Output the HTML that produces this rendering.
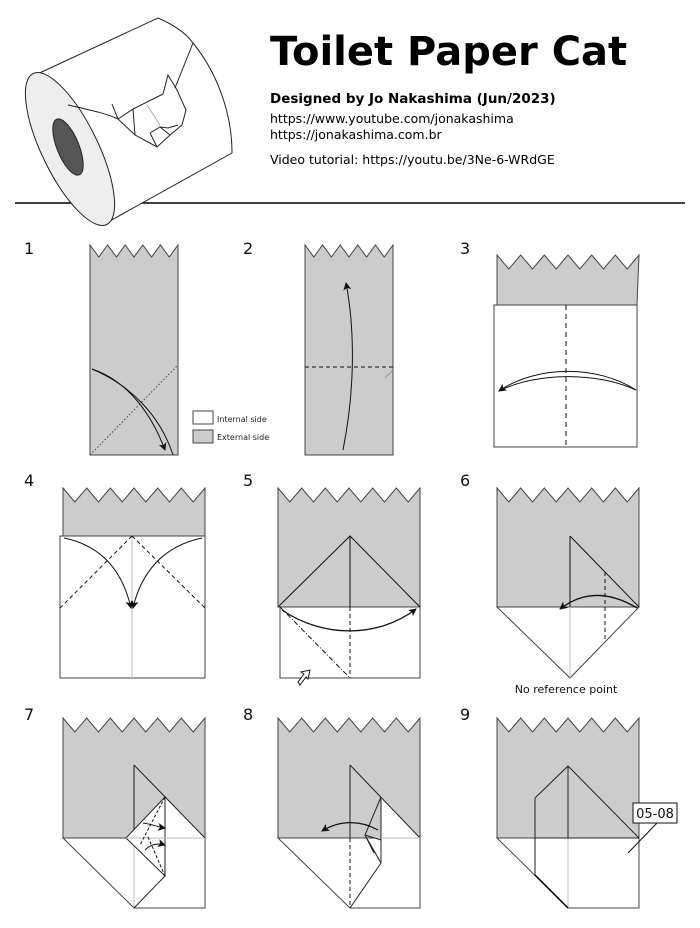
<!DOCTYPE html>
<html><head><meta charset="utf-8"><style>
body{margin:0;background:#fff;}
svg{display:block;font-family:"DejaVu Sans","Liberation Sans",sans-serif;}
</style></head><body>
<svg width="700" height="928" viewBox="0 0 700 928" xmlns="http://www.w3.org/2000/svg">
<defs>
<marker id="ah" markerWidth="8" markerHeight="8" refX="7" refY="4" orient="auto" markerUnits="userSpaceOnUse"><path d="M0,0 L8,4 L0,8 L2,4z" fill="#111"/></marker>
</defs>
<line x1="15" y1="203" x2="685" y2="203" stroke="#000" stroke-width="1.6"/>
<g fill="none" stroke="#222" stroke-width="1">
<!-- roll -->
<path d="M33,76 L158,18 C172,24 185,32 193,43 C215,70 232,110 232,153 L108,222 Z" fill="#fff"/>
<ellipse cx="70" cy="149" rx="28" ry="84" transform="rotate(-26 70 149)" fill="#eee"/>
<ellipse cx="68" cy="147" rx="11" ry="30" transform="rotate(-22 68 147)" fill="#555"/>
<path d="M68,105 C90,110 105,113 118,119 M193,43 L175,88 M112,104 L118,119 L133,109 L163,94 L168,75 L177,90 L186,110 L182,125 L170,135 L157,147 L135,135 L133,109 M118,119 L135,135 M150,133 L160,127 L168,128 L178,125 M150,133 L157,147 M160,127 L170,135"/>
<line x1="147" y1="105" x2="160" y2="125" stroke="#aaa"/>
</g>
<text x="270" y="65" font-size="40" font-weight="bold" fill="#000">Toilet Paper Cat</text>
<text x="270" y="103" font-size="13.5" font-weight="bold">Designed by Jo Nakashima (Jun/2023)</text>
<text x="270" y="123" font-size="12.5">https://www.youtube.com/jonakashima</text>
<text x="270" y="139" font-size="12.5">https://jonakashima.com.br</text>
<text x="270" y="164" font-size="12.5">Video tutorial: https://youtu.be/3Ne-6-WRdGE</text>

<g font-size="16" fill="#111">
<text x="24" y="254">1</text><text x="243" y="254">2</text><text x="460" y="254">3</text>
<text x="24" y="486">4</text><text x="243" y="486">5</text><text x="460" y="486">6</text>
<text x="24" y="720">7</text><text x="243" y="720">8</text><text x="460" y="720">9</text>
</g>

<g stroke="#444" stroke-width="1" fill="none">
<!-- step1 -->
<polygon points="90,245 98.8,257 107.6,245 116.4,257 125.2,245 134,257 142.8,245 151.6,257 160.4,245 169.2,257 178,245 178,455 90,455" fill="#ccc"/>
<line x1="90" y1="455" x2="178" y2="365" stroke-dasharray="1.5,2"/>
<path d="M92,369 C125,380 150,410 165,450" stroke="#111" marker-end="url(#ah)"/>
<path d="M92,369 C130,385 160,415 173,455" stroke="#111"/>
<rect x="193" y="411" width="20" height="13" fill="#fff"/>
<rect x="193" y="430" width="20" height="13" fill="#ccc"/>
<!-- step2 -->
<polygon points="305,245 313.8,257 322.6,245 331.4,257 340.2,245 349,257 357.8,245 366.6,257 375.4,245 384.2,257 393,245 393,455 305,455" fill="#ccc"/>
<line x1="305" y1="367" x2="393" y2="367" stroke="#111" stroke-dasharray="4,3"/>
<line x1="385" y1="378" x2="393" y2="370" stroke="#999"/>
<path d="M343,450 C355,390 355,330 346,283" stroke="#111" marker-end="url(#ah)"/>
<!-- step3 -->
<g transform="translate(497,255)">
<polygon points="0,0 11.8,14 23.7,0 35.5,14 47.3,0 59.2,14 71,0 82.8,14 94.7,0 106.5,14 118.3,0 130.2,14 142,0 140,50 0,50" fill="#ccc"/>
<rect x="-3" y="50" width="143" height="142" fill="#fff"/>
<line x1="69" y1="50" x2="69" y2="192" stroke="#111" stroke-dasharray="5,4"/>
<path d="M139,135 C100,110 40,110 2,136" stroke="#111" marker-end="url(#ah)"/>
<path d="M139,135 C100,117 40,117 2,136" stroke="#111"/>
</g>
<!-- step4 -->
<g transform="translate(63,488)">
<polygon points="0,0 11.8,14 23.7,0 35.5,14 47.3,0 59.2,14 71,0 82.8,14 94.7,0 106.5,14 118.3,0 130.2,14 142,0 142,48 0,48" fill="#ccc"/>
<rect x="-3" y="48" width="145" height="142" fill="#fff"/>
<line x1="69" y1="48" x2="69" y2="190" stroke="#bbb"/>
<path d="M69,48 L-3,120 M69,48 L142,120" stroke="#111" stroke-dasharray="4,3"/>
<path d="M1,50 C40,58 60,85 68,120" stroke="#111" marker-end="url(#ah)"/>
<path d="M139,50 C100,58 78,85 70,120" stroke="#111" marker-end="url(#ah)"/>
</g>
<!-- step5 -->
<g transform="translate(278,488)">
<polygon points="0,0 11.8,14 23.7,0 35.5,14 47.3,0 59.2,14 71,0 82.8,14 94.7,0 106.5,14 118.3,0 130.2,14 142,0 142,119 0,119" fill="#ccc"/>
<rect x="2" y="119" width="140" height="71" fill="#fff"/>
<path d="M0,119 L72,48 L142,119 M72,48 L72,119" stroke="#111"/>
<line x1="72" y1="119" x2="72" y2="190" stroke="#111" stroke-dasharray="4,3"/>
<line x1="2" y1="119" x2="72" y2="190" stroke="#111" stroke-dasharray="5,2,1,2"/>
<path d="M4,122 C45,150 100,150 138,121" stroke="#111" stroke-width="1.3" marker-end="url(#ah)"/>
<path d="M20,194 L26,186 L23,184 L32,182 L30,191 L28,189 L22,197 Z" fill="#fff" stroke="#111"/>
</g>
<!-- step6 -->
<g transform="translate(497,488)">
<polygon points="0,0 11.8,14 23.7,0 35.5,14 47.3,0 59.2,14 71,0 82.8,14 94.7,0 106.5,14 118.3,0 130.2,14 142,0 142,119 0,119" fill="#ccc"/>
<polygon points="0,119 73,190 142,119" fill="#fff"/>
<line x1="73" y1="119" x2="73" y2="190" stroke="#bbb"/>
<path d="M73,48 L73,119 M73,48 L142,119" stroke="#111"/>
<line x1="108" y1="84" x2="108" y2="154" stroke="#111" stroke-dasharray="4,3"/>
<path d="M140,120 C110,102 85,104 63,121" stroke="#111" stroke-width="1.3" marker-end="url(#ah)"/>
</g>
<text x="566" y="693" font-size="11" text-anchor="middle" fill="#111" stroke="none">No reference point</text>
<!-- step7 -->
<g transform="translate(63,718)">
<polygon points="0,0 11.8,14 23.7,0 35.5,14 47.3,0 59.2,14 71,0 82.8,14 94.7,0 106.5,14 118.3,0 130.2,14 142,0 142,120 0,120" fill="#ccc"/>
<polygon points="0,120 71,190 142,190 142,120" fill="#fff"/>
<line x1="71" y1="120" x2="71" y2="190" stroke="#bbb"/>
<polygon points="102,79 142,120 102,120" fill="#fff" stroke="none"/>
<path d="M71,47 L71,120 M71,47 L142,120" stroke="#222"/>
<polygon points="102,79 63,120 102,158" fill="#fff" stroke="#222"/>
<line x1="102" y1="158" x2="71" y2="190" stroke="#222"/>
<line x1="102" y1="79" x2="102" y2="158" stroke="#222"/>
<line x1="63" y1="120" x2="142" y2="120" stroke="#bbb"/>
<path d="M102,79 L77,127 M85,119 L102,158" stroke="#111" stroke-dasharray="3,2"/>
<path d="M80,105 C88,106 95,109 102,110" stroke="#111" marker-end="url(#ah)"/>
<path d="M82,132 C88,126 95,125 102,127" stroke="#111" marker-end="url(#ah)"/>
</g>
<!-- step8 -->
<g transform="translate(278,718)">
<polygon points="0,0 11.8,14 23.7,0 35.5,14 47.3,0 59.2,14 71,0 82.8,14 94.7,0 106.5,14 118.3,0 130.2,14 142,0 142,120 0,120" fill="#ccc"/>
<polygon points="0,120 72,190 142,190 142,120" fill="#fff"/>
<polygon points="103,79 142,120 103,120" fill="#fff" stroke="none"/>
<path d="M72,47 L72,120 M72,47 L142,120" stroke="#222"/>
<polygon points="103,79 87,117 103,122" fill="#ccc" stroke="#222"/>
<path d="M87,117 L103,145 L72,190 M87,117 L96,135 M103,122 L103,145" stroke="#222"/>
<line x1="72" y1="120" x2="72" y2="190" stroke="#111" stroke-dasharray="4,3"/>
<line x1="103" y1="120" x2="142" y2="120" stroke="#bbb"/>
<path d="M100,112 C82,102 62,102 44,113" stroke="#111" stroke-width="1.2" marker-end="url(#ah)"/>
</g>
<!-- step9 -->
<g transform="translate(497,718)">
<polygon points="0,0 11.8,14 23.7,0 35.5,14 47.3,0 59.2,14 71,0 82.8,14 94.7,0 106.5,14 118.3,0 130.2,14 142,0 142,120 0,120" fill="#ccc"/>
<polygon points="0,120 71,190 142,190 142,120" fill="#fff"/>
<line x1="71" y1="120" x2="71" y2="190" stroke="#bbb"/>
<path d="M38,80 L71,48 L142,120 M71,48 L71,120 M38,80 L38,157 M38,120 L142,120" stroke="#222"/>
<line x1="38" y1="157" x2="71" y2="190" stroke="#000" stroke-width="1.5"/>
<line x1="160" y1="105" x2="131" y2="135" stroke="#111"/>
<rect x="136" y="85" width="44" height="20" fill="#fff" stroke="#111"/>
<text x="158" y="100" font-size="13" text-anchor="middle" fill="#111" stroke="none">05-08</text>
</g>
</g>
<text x="217" y="422" font-size="8" fill="#222">Internal side</text>
<text x="217" y="440" font-size="8" fill="#222">External side</text>
</svg>
</body></html>
